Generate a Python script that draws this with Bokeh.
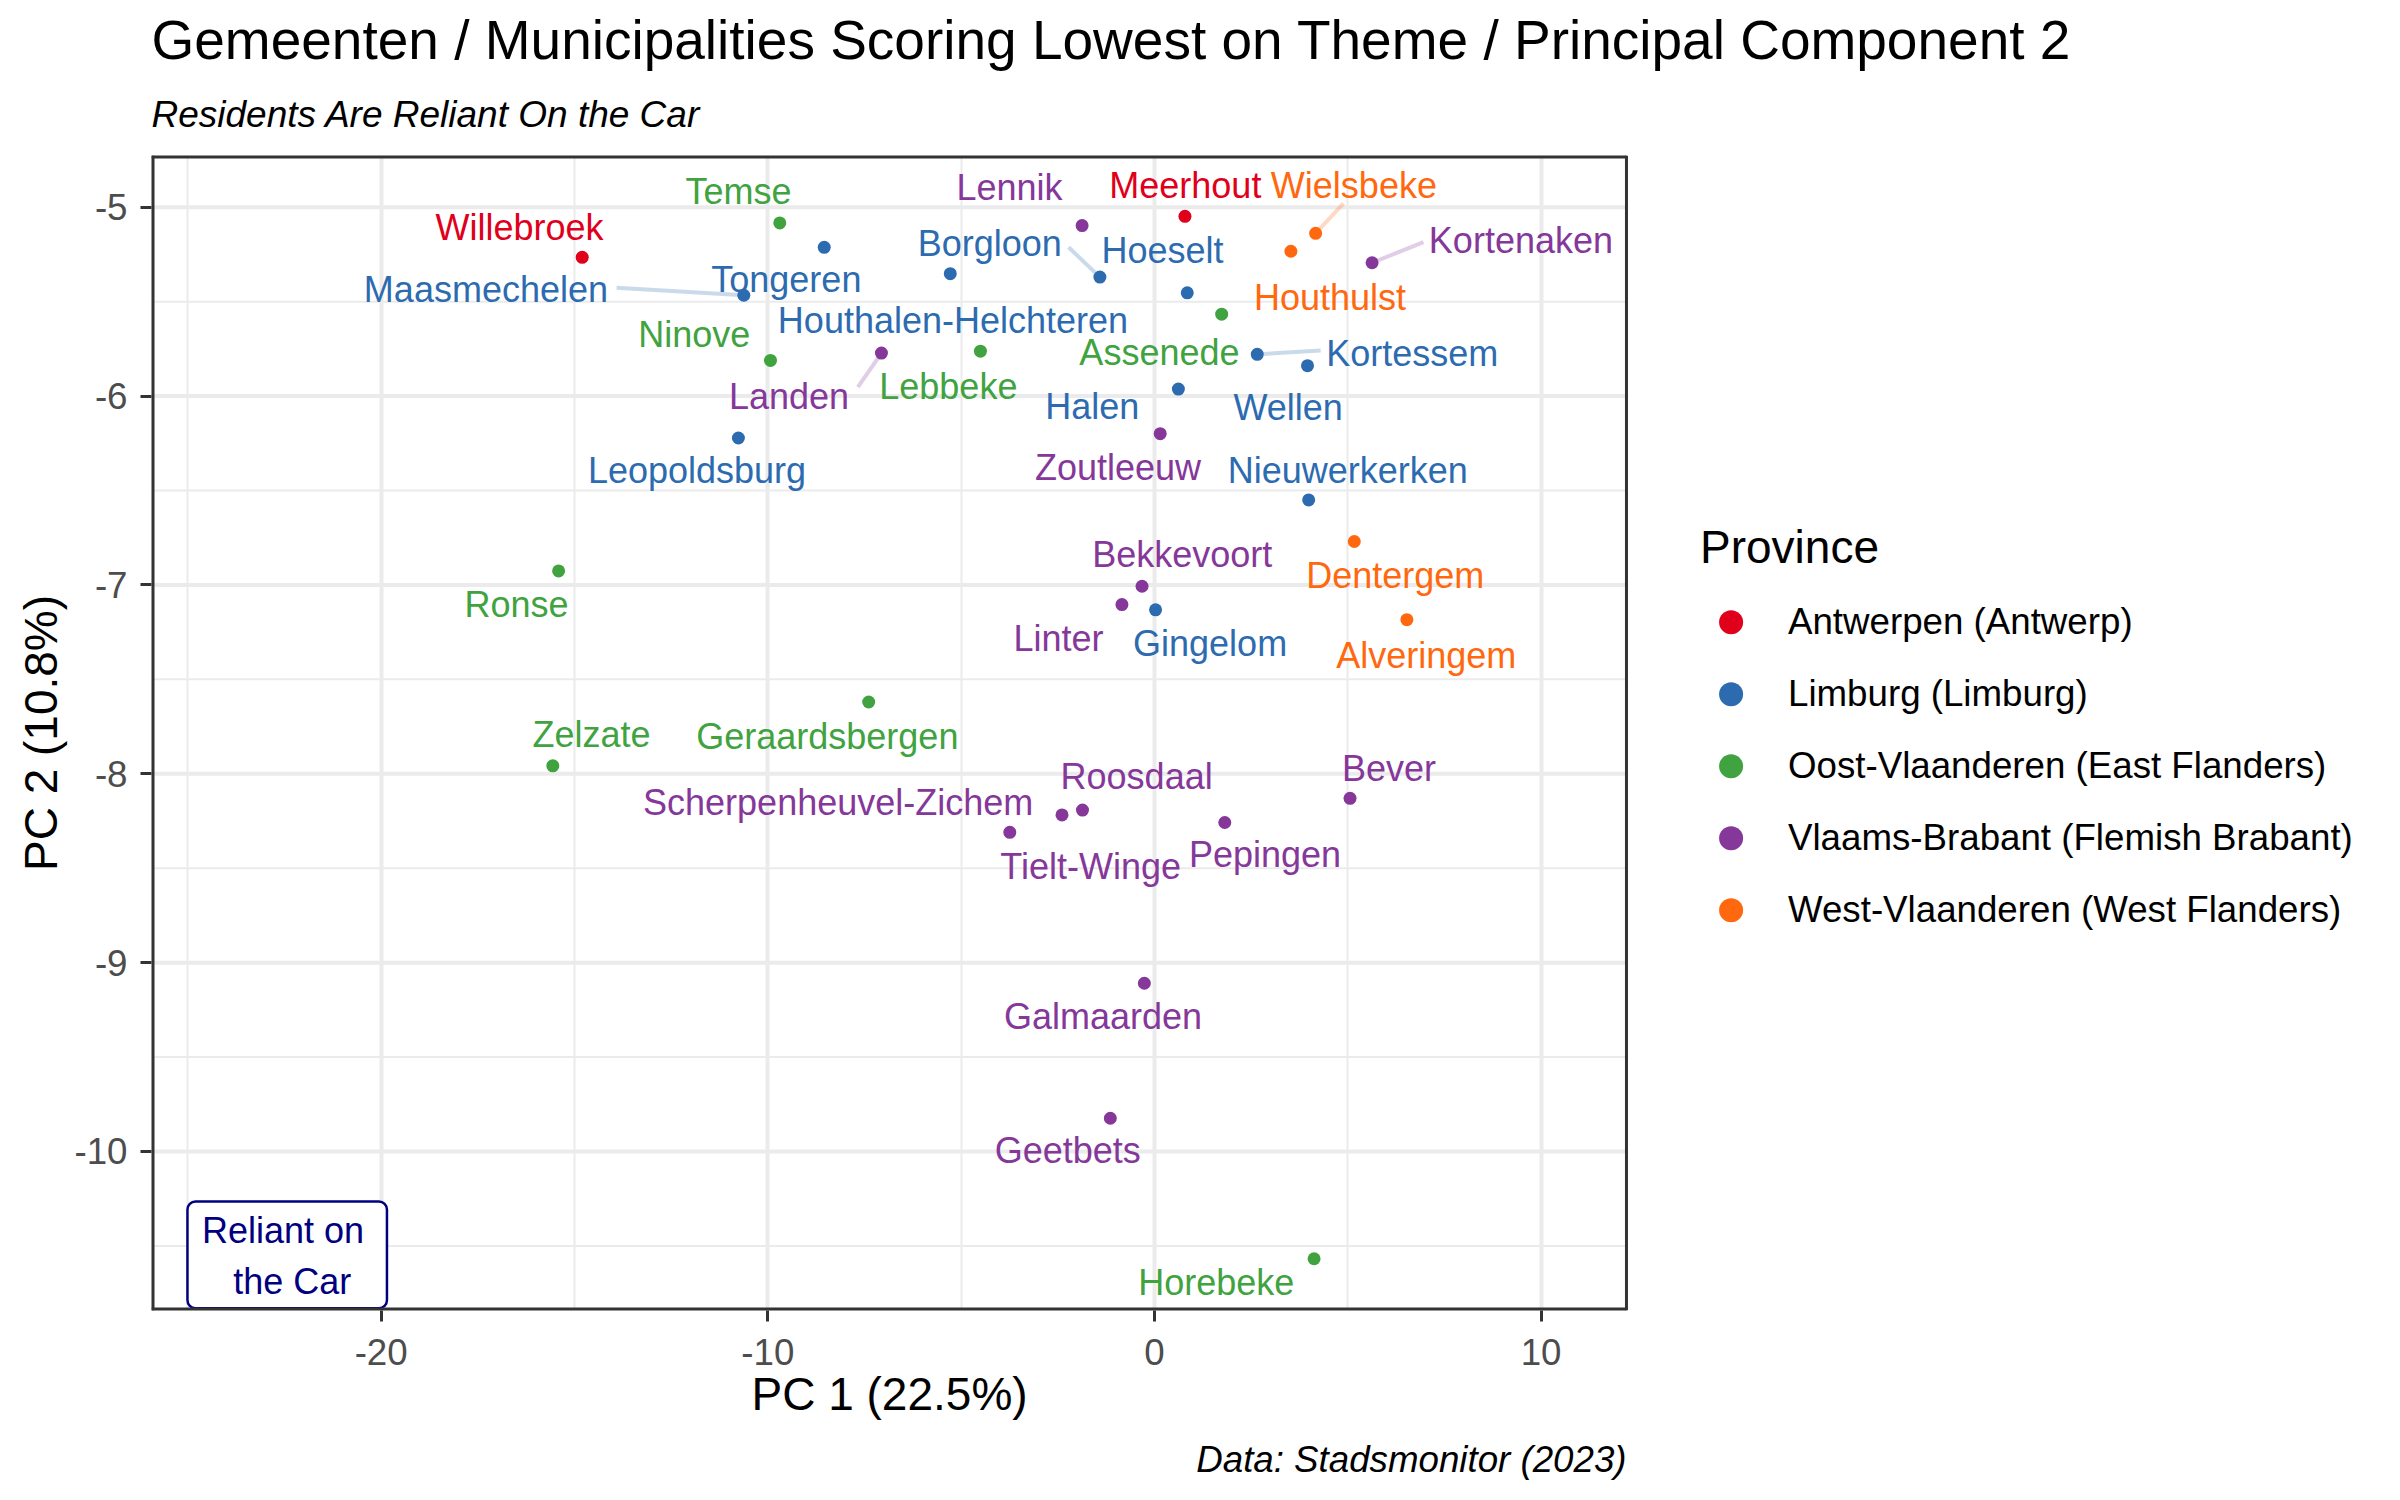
from bokeh.plotting import figure
from bokeh.models import (Range1d, FixedTicker, Legend, LegendItem, ColumnDataSource, Title,
                          PrintfTickFormatter, CDSView, IndexFilter)
from bokeh.core.properties import value
from bokeh.embed import file_html
from bokeh.resources import INLINE

# ---------------- data ----------------
names = ["Willebroek", "Meerhout",
         "Maasmechelen", "Tongeren", "Houthalen-Helchteren", "Borgloon", "Hoeselt", "Kortessem",
         "Wellen", "Halen", "Leopoldsburg", "Nieuwerkerken", "Gingelom",
         "Temse", "Ninove", "Lebbeke", "Assenede", "Ronse", "Zelzate", "Geraardsbergen", "Horebeke",
         "Lennik", "Kortenaken", "Landen", "Zoutleeuw", "Bekkevoort", "Linter", "Roosdaal",
         "Scherpenheuvel-Zichem", "Tielt-Winge", "Pepingen", "Bever", "Galmaarden", "Geetbets",
         "Wielsbeke", "Houthulst", "Dentergem", "Alveringem"]
province = (["Antwerpen (Antwerp)"] * 2 + ["Limburg (Limburg)"] * 11 +
            ["Oost-Vlaanderen (East Flanders)"] * 8 + ["Vlaams-Brabant (Flemish Brabant)"] * 13 +
            ["West-Vlaanderen (West Flanders)"] * 4)
pc1 = [-14.80, 0.79,
       -10.62, -8.54, -5.28, -1.41, 0.85, 2.66, 3.96, 0.62, -10.76, 3.99, 0.03,
       -9.69, -9.93, -4.50, 1.74, -15.41, -15.56, -7.39, 4.13,
       -1.87, 5.63, -7.06, 0.15, -0.32, -0.84, -1.86, -3.74, -2.39, 1.82, 5.06, -0.26, -1.14,
       4.17, 3.53, 5.17, 6.53]
pc2 = [-5.265, -5.048,
       -5.466, -5.212, -5.352, -5.370, -5.453, -5.779, -5.839, -5.963, -6.222, -6.550, -7.132,
       -5.083, -5.811, -5.762, -5.566, -6.926, -7.958, -7.620, -10.568,
       -5.097, -5.294, -5.772, -6.199, -7.007, -7.104, -8.192, -8.310, -8.218, -8.258, -8.130, -9.109, -9.824,
       -5.138, -5.233, -6.770, -7.184]

province_levels = ["Antwerpen (Antwerp)", "Limburg (Limburg)", "Oost-Vlaanderen (East Flanders)",
                   "Vlaams-Brabant (Flemish Brabant)", "West-Vlaanderen (West Flanders)"]
x_ticks = [-20, -10, 0, 10]
x_minor = [-25, -15, -5, 5]
y_ticks = [-10, -9, -8, -7, -6, -5]
y_minor = [-10.5, -9.5, -8.5, -7.5, -6.5, -5.5]
note_lines = ["Reliant on", "the Car"]

# ---------------- layout / style ----------------
palette = ["#E0001B", "#2D6BB0", "#40A33F", "#85379A", "#FF680F"]
color_of = dict(zip(province_levels, palette))
FONT = "Liberation Sans"

label_offset = {
    "Willebroek": (-1.62, 0.16), "Meerhout": (0.01, 0.161), "Maasmechelen": (-6.67, 0.029),
    "Tongeren": (-0.98, -0.169), "Houthalen-Helchteren": (0.07, -0.247), "Borgloon": (-2.85, 0.176),
    "Hoeselt": (-0.64, 0.226), "Kortessem": (4.01, 0.002), "Wellen": (-0.50, -0.222),
    "Halen": (-2.23, -0.09), "Leopoldsburg": (-1.07, -0.171), "Nieuwerkerken": (1.01, 0.157),
    "Gingelom": (1.41, -0.176), "Temse": (-1.07, 0.164), "Ninove": (-1.97, 0.139),
    "Lebbeke": (-0.83, -0.185), "Assenede": (-1.61, -0.203), "Ronse": (-1.09, -0.179),
    "Zelzate": (1.00, 0.164), "Geraardsbergen": (-1.07, -0.182), "Horebeke": (-2.53, -0.124),
    "Lennik": (-1.88, 0.202), "Kortenaken": (3.85, 0.116), "Landen": (-2.39, -0.232),
    "Zoutleeuw": (-1.09, -0.178), "Bekkevoort": (1.04, 0.169), "Linter": (-1.64, -0.179),
    "Roosdaal": (1.40, 0.18), "Scherpenheuvel-Zichem": (-4.44, 0.16), "Tielt-Winge": (0.74, -0.272),
    "Pepingen": (1.04, -0.167), "Bever": (1.01, 0.158), "Galmaarden": (-1.07, -0.174),
    "Geetbets": (-1.10, -0.172), "Wielsbeke": (0.99, 0.251), "Houthulst": (1.01, -0.245),
    "Dentergem": (1.06, -0.181), "Alveringem": (0.50, -0.188),
}
segment_offset = {
    "Maasmechelen": (-3.29, 0.04), "Borgloon": (-0.81, 0.158), "Kortessem": (1.64, 0.021),
    "Kortenaken": (1.33, 0.109), "Wielsbeke": (0.72, 0.159), "Landen": (-0.61, -0.18),
}

# panel limits (data units); the frame extends right to host the legend
XR = (-25.94, 12.21)
YR = (-10.842, -4.726)
X_FRAME_END = 32.23
W, H = 2400, 1500
LEFT, TOP, BOTTOM = 151, 155, 190
SX = (W - LEFT) / (X_FRAME_END - XR[0])          # px per x unit
SY = (H - TOP - BOTTOM) / (YR[1] - YR[0])        # px per y unit


def px_to_x(px):
    return XR[0] + (px - LEFT) / SX


def px_to_y(py):
    return YR[1] - (py - TOP) / SY


# legend geometry (screen px)
LEG_LEFT, LEG_KEY_CX, LEG_FIRST_CY, LEG_STEP, LEG_BOTTOM = 1700, 1730.6, 621.7, 72, 939.7

p = figure(width=W, height=H, output_backend="svg", toolbar_location=None,
           x_range=Range1d(XR[0], X_FRAME_END), y_range=Range1d(*YR),
           min_border_left=LEFT, min_border_right=0, min_border_top=TOP, min_border_bottom=BOTTOM)
p.title = None
p.background_fill_color = "white"
p.border_fill_color = "white"
p.outline_line_color = None

# axes
p.xaxis.ticker = FixedTicker(ticks=x_ticks, minor_ticks=x_minor)
p.yaxis.ticker = FixedTicker(ticks=y_ticks, minor_ticks=y_minor)
for ax in (p.xaxis[0], p.yaxis[0]):
    ax.formatter = PrintfTickFormatter(format="%d")
    ax.axis_line_color = None
    ax.major_tick_line_color = "#333333"
    ax.major_tick_line_width = 3
    ax.major_tick_out = 11
    ax.major_tick_in = 0
    ax.minor_tick_line_color = None
    ax.major_label_text_font = FONT
    ax.major_label_text_font_size = "36.7px"
    ax.major_label_text_color = "#4D4D4D"
    ax.axis_label_text_font = FONT
    ax.axis_label_text_font_size = "46px"
    ax.axis_label_text_font_style = "normal"
    ax.axis_label_text_color = "black"
p.yaxis.axis_label = "PC 2 (10.8%)"
p.xaxis.major_label_standoff = 17
p.yaxis.major_label_standoff = 13
p.yaxis.axis_label_standoff = 4

# grid: vertical lines from Bokeh grid, horizontal lines limited to the panel
xg = p.xgrid[0]
xg.grid_line_color = "#EBEBEB"
xg.grid_line_width = 4
xg.minor_grid_line_color = "#EBEBEB"
xg.minor_grid_line_width = 2
p.ygrid[0].visible = False
p.segment(x0=[XR[0]] * len(y_minor), x1=[XR[1]] * len(y_minor), y0=y_minor, y1=y_minor,
          line_color="#EBEBEB", line_width=2)
p.segment(x0=[XR[0]] * len(y_ticks), x1=[XR[1]] * len(y_ticks), y0=y_ticks, y1=y_ticks,
          line_color="#EBEBEB", line_width=4)

# label segments
seg_x0, seg_y0, seg_x1, seg_y1, seg_c = [], [], [], [], []
for n, x, y, pr in zip(names, pc1, pc2, province):
    if n in segment_offset:
        dx, dy = segment_offset[n]
        seg_x0.append(x); seg_y0.append(y)
        seg_x1.append(x + dx); seg_y1.append(y + dy)
        seg_c.append(color_of[pr])
p.segment(x0=seg_x0, y0=seg_y0, x1=seg_x1, y1=seg_y1, line_color=seg_c, line_alpha=0.25, line_width=4)

# points per province
legend_items = []
for lvl in province_levels:
    xs = [x for x, pr in zip(pc1, province) if pr == lvl]
    ys = [y for y, pr in zip(pc2, province) if pr == lvl]
    r = p.scatter(xs, ys, size=13, fill_color=color_of[lvl], line_color=None, marker="circle")
    # glyph-less legend entry (keys are drawn separately below, larger than the points)
    hidden = p.scatter(xs, ys, size=24, fill_color=color_of[lvl], line_color=None, marker="circle",
                       view=CDSView(filter=IndexFilter(indices=[])))
    legend_items.append(LegendItem(label=lvl, renderers=[hidden]))

# legend keys (large dots) in the legend column
key_x = [px_to_x(LEG_KEY_CX)] * len(province_levels)
key_y = [px_to_y(LEG_FIRST_CY + LEG_STEP * i) for i in range(len(province_levels))]
p.scatter(key_x, key_y, size=24, fill_color=palette, line_color=None, marker="circle")

# point labels
lx = [x + label_offset[n][0] for n, x in zip(names, pc1)]
ly = [y + label_offset[n][1] for n, y in zip(names, pc2)]
lc = [color_of[pr] for pr in province]
src = ColumnDataSource(dict(x=lx, y=ly, t=names, c=lc))
p.text(x="x", y="y", text="t", source=src, text_color="c", text_align="center",
       text_baseline="middle", text_font=value(FONT), text_font_size=value("36px"))

# annotation box bottom-left
p.quad(left=[-25.01], right=[-19.85], bottom=[-10.83], top=[-10.265],
       fill_color="white", line_color="#000080", line_width=2.5, border_radius=8)
p.text(x=[-22.54, -22.30], y=[-10.417, -10.686], text=note_lines, text_color="#000080",
       text_align="center", text_baseline="middle",
       text_font=value(FONT), text_font_size=value("36px"))

# panel border (left/top/bottom sit on the frame edge and get half-clipped)
p.segment(x0=[XR[0], XR[0], XR[0]], x1=[XR[0], XR[1], XR[1]],
          y0=[YR[0], YR[1], YR[0]], y1=[YR[1], YR[1], YR[0]],
          line_color="#333333", line_width=6)
p.segment(x0=[XR[1]], x1=[XR[1]], y0=[YR[0]], y1=[YR[1]], line_color="#333333", line_width=3)

# legend text (inside the extended frame, right of the panel)
legend = Legend(items=legend_items, location=(LEG_LEFT - LEFT, H - BOTTOM - LEG_BOTTOM), title="Province",
                title_text_font=FONT, title_text_font_size="46px", title_text_font_style="normal",
                title_text_color="black", title_standoff=18,
                label_text_font=FONT, label_text_font_size="36.7px", label_text_color="black",
                label_standoff=28, glyph_width=60, glyph_height=60, spacing=12, padding=0, margin=0,
                border_line_color=None, background_fill_alpha=0)
p.add_layout(legend, "center")

# titles above: subtitle (closest to frame), then title
p.add_layout(Title(text="Residents Are Reliant On the Car", align="left",
                   text_font=FONT, text_font_size="37px", text_font_style="italic",
                   text_color="black", standoff=42), "above")
p.add_layout(Title(text="Gemeenten / Municipalities Scoring Lowest on Theme / Principal Component 2",
                   align="left", text_font=FONT, text_font_size="55px", text_font_style="normal",
                   text_color="black", standoff=0), "above")
# below: x-axis title centred under the panel, then caption right-aligned to the panel
p.add_layout(Title(text="PC 1 (22.5%)", align="left", offset=600, vertical_align="top",
                   text_font=FONT, text_font_size="46px", text_font_style="normal",
                   text_color="black", standoff=0), "below")
p.add_layout(Title(text="Data: Stadsmonitor (2023)", align="right", offset=774, vertical_align="top",
                   text_font=FONT, text_font_size="36.7px", text_font_style="italic",
                   text_color="black", standoff=34), "below")

open("out.html", "w").write(file_html(p, INLINE))
